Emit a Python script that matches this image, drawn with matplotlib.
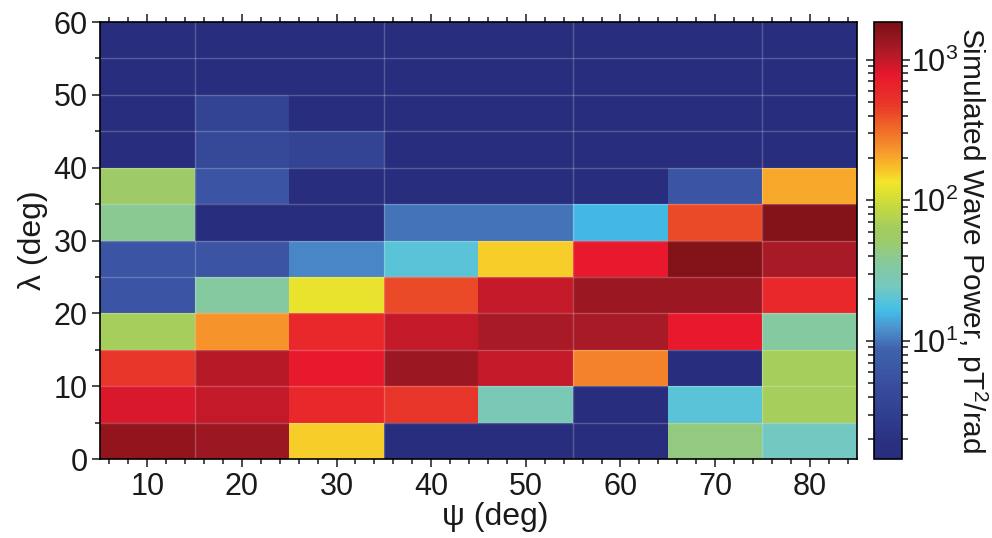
import numpy as np
import matplotlib
matplotlib.use("Agg")
import matplotlib.pyplot as plt
from matplotlib.colors import LinearSegmentedColormap, LogNorm
from matplotlib.ticker import MultipleLocator, LogLocator

plt.rcParams['font.family'] = ['Liberation Sans', 'DejaVu Sans']
plt.rcParams['mathtext.fontset'] = 'custom'
plt.rcParams['mathtext.rm'] = 'Liberation Sans'

# wave normal angle psi (bin centres, deg) and latitude lambda (bin edges, deg)
psi = [10, 20, 30, 40, 50, 60, 70, 80]
lam_edges = [0, 5, 10, 15, 20, 25, 30, 35, 40, 45, 50, 55, 60]

# simulated wave power (pT^2/rad), rows = lambda bins from 0-5 upwards
power_0_5   = [1450, 1360, 158, 1.6, 1.6, 1.6, 44, 24]
power_5_10  = [860, 980, 600, 495, 27, 1.6, 19.5, 66]
power_10_15 = [495, 1080, 760, 1360, 980, 267, 1.6, 66]
power_15_20 = [66, 234, 600, 980, 1215, 1215, 760, 34.5]
power_20_25 = [6.0, 34.5, 125, 420, 980, 1360, 1360, 600]
power_25_30 = [6.0, 6.0, 11.4, 19.5, 158, 760, 1690, 1215]
power_30_35 = [39, 1.6, 1.6, 9.7, 9.7, 16, 420, 1690]
power_35_40 = [54, 6.0, 1.6, 1.6, 1.6, 1.6, 6.0, 198]
power_40_45 = [1.6, 4.1, 3.5, 1.6, 1.6, 1.6, 1.6, 1.6]
power_45_50 = [1.6, 3.5, 1.6, 1.6, 1.6, 1.6, 1.6, 1.6]
power_50_55 = [1.6, 1.6, 1.6, 1.6, 1.6, 1.6, 1.6, 1.6]
power_55_60 = [1.6, 1.6, 1.6, 1.6, 1.6, 1.6, 1.6, 1.6]

power = np.array([power_0_5, power_5_10, power_10_15, power_15_20,
                  power_20_25, power_25_30, power_30_35, power_35_40,
                  power_40_45, power_45_50, power_50_55, power_55_60])

psi = np.array(psi)
psi_edges = np.concatenate([psi - 5, [psi[-1] + 5]])
lam_edges = np.array(lam_edges)

# jet-like colour scale sampled from the original colour bar
cmap = LinearSegmentedColormap.from_list('wave', [
    (0.00, '#282c7c'), (0.03, '#2a2f7f'), (0.105, '#30408f'), (0.18, '#3a50a0'),
    (0.25, '#3f63ac'), (0.295, '#4c8fcb'), (0.34, '#43bfe9'), (0.395, '#76c9c0'),
    (0.45, '#86c99b'), (0.50, '#9dcb6a'), (0.53, '#a4cd5f'), (0.59, '#cddd38'),
    (0.635, '#f4e52b'), (0.665, '#f8c12a'), (0.71, '#f6942b'), (0.765, '#ef6228'),
    (0.815, '#e8352a'), (0.88, '#e8182c'), (0.94, '#a81a26'), (1.00, '#7a1016')])
norm = LogNorm(vmin=1.45, vmax=1850)

fig = plt.figure(figsize=(9.92, 5.38), dpi=100)
ax = fig.add_axes([0.1008, 0.1468, 0.7631, 0.8122])
cax = fig.add_axes([0.881, 0.1468, 0.028, 0.8122])

mesh = ax.pcolormesh(psi_edges, lam_edges, power, cmap=cmap, norm=norm)

# faint grid lines over the map
for x in psi_edges[1:-1:2]:
    ax.axvline(x, color='white', alpha=0.22, lw=1.0)
for y in lam_edges[1:-1]:
    ax.axhline(y, color='white', alpha=0.22, lw=1.0)

txt = '#1a1a1a'
ax.set_xlim(psi_edges[0], psi_edges[-1])
ax.set_ylim(lam_edges[0], lam_edges[-1])
ax.xaxis.set_major_locator(MultipleLocator(10))
ax.xaxis.set_minor_locator(MultipleLocator(2))
ax.yaxis.set_major_locator(MultipleLocator(10))
ax.yaxis.set_minor_locator(MultipleLocator(5))
ax.tick_params(which='both', direction='out', top=True, right=False,
               width=1.1, colors=txt, labelsize=22)
ax.tick_params(which='major', length=6)
ax.tick_params(which='minor', length=3.5)
ax.tick_params(axis='x', pad=3)
ax.tick_params(axis='y', pad=3)
for s in ax.spines.values():
    s.set_linewidth(1.2)

ax.set_xlabel('ψ (deg)', fontsize=23, color=txt)
ax.xaxis.set_label_coords(0.522, -0.098)
ax.set_ylabel('λ (deg)', fontsize=23, color=txt, labelpad=4)

cb = fig.colorbar(mesh, cax=cax)
cb.outline.set_linewidth(1.2)
cb.ax.yaxis.set_major_locator(LogLocator(base=10))
cb.ax.yaxis.set_minor_locator(LogLocator(base=10, subs=np.arange(2, 10)))
cb.ax.tick_params(which='both', direction='out', left=True, right=True,
                  width=1.1, colors=txt, labelsize=22, pad=1)
cb.ax.tick_params(which='major', length=5.5)
cb.ax.tick_params(which='minor', length=4)
cb.set_label('Simulated Wave Power, pT$^2$/rad', rotation=270,
             fontsize=21.5, color=txt, labelpad=23)

fig.savefig('out.png', dpi=100)
